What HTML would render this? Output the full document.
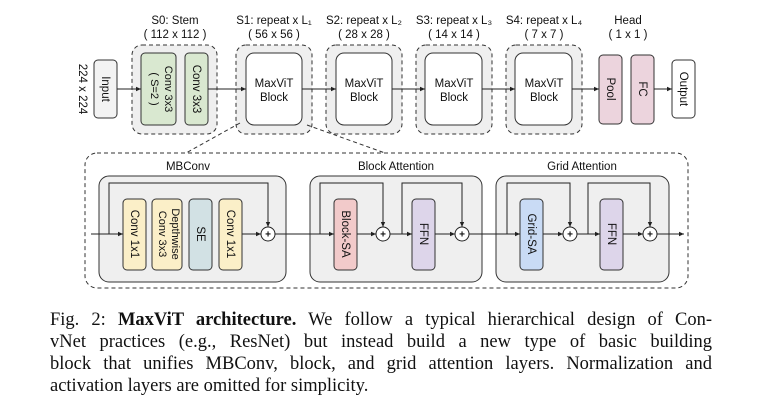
<!DOCTYPE html>
<html><head><meta charset="utf-8"><style>
body{margin:0;background:#fff;width:770px;height:417px;overflow:hidden;position:relative}
svg{position:absolute;left:0;top:0}
.cap{position:absolute;left:50px;width:662px;font-family:"Liberation Serif",serif;font-size:18.5px;color:#111;text-align:justify;text-align-last:justify;white-space:nowrap;line-height:22px}
</style></head><body>
<svg width="770" height="300" viewBox="0 0 770 300" font-family="Liberation Sans, sans-serif" fill="none">
<defs><marker id="a" markerWidth="6" markerHeight="6" refX="5" refY="3" orient="auto"><path d="M0,0.8 L5,3 L0,5.2z" fill="#222"/></marker></defs>
<g font-size="11.5" fill="#111" stroke="none" text-anchor="middle">
<text x="175" y="24">S0: Stem</text><text x="175" y="38">( 112 x 112 )</text>
<text x="274" y="24">S1: repeat x L₁</text><text x="274" y="38">( 56 x 56 )</text>
<text x="364" y="24">S2: repeat x L₂</text><text x="364" y="38">( 28 x 28 )</text>
<text x="454" y="24">S3: repeat x L₃</text><text x="454" y="38">( 14 x 14 )</text>
<text x="544" y="24">S4: repeat x L₄</text><text x="544" y="38">( 7 x 7 )</text>
<text x="628" y="24">Head</text><text x="628" y="38">( 1 x 1 )</text>
</g>
<g stroke="#333" stroke-dasharray="4,3" fill="#efefef">
<rect x="132" y="45" width="85" height="89" rx="10"/>
<rect x="236" y="45" width="76" height="89" rx="10"/>
<rect x="326" y="45" width="76" height="89" rx="10"/>
<rect x="416" y="45" width="76" height="89" rx="10"/>
<rect x="506" y="45" width="76" height="89" rx="10"/>
</g>
<g stroke="#333">
<rect x="94" y="60" width="23" height="58" rx="4" fill="#f3f3f3"/>
<rect x="141" y="53" width="35" height="72" rx="4" fill="#d9e8d0"/>
<rect x="185" y="53" width="23" height="72" rx="4" fill="#d9e8d0"/>
<rect x="246" y="53" width="56" height="72" rx="8" fill="#fff"/>
<rect x="336" y="53" width="56" height="72" rx="8" fill="#fff"/>
<rect x="425" y="53" width="57" height="72" rx="8" fill="#fff"/>
<rect x="515" y="53" width="57" height="72" rx="8" fill="#fff"/>
<rect x="599" y="55" width="23" height="69" rx="4" fill="#ecd4dd"/>
<rect x="631" y="55" width="23" height="69" rx="4" fill="#ecd4dd"/>
<rect x="672" y="60" width="23" height="58" rx="4" fill="#fff"/>
</g>
<g stroke="#222" stroke-width="1">
<line x1="117" y1="89" x2="141" y2="89" marker-end="url(#a)"/>
<line x1="208" y1="89" x2="246" y2="89" marker-end="url(#a)"/>
<line x1="302" y1="89" x2="336" y2="89" marker-end="url(#a)"/>
<line x1="392" y1="89" x2="425" y2="89" marker-end="url(#a)"/>
<line x1="482" y1="89" x2="515" y2="89" marker-end="url(#a)"/>
<line x1="572" y1="89" x2="599" y2="89" marker-end="url(#a)"/>
<line x1="654" y1="89" x2="672" y2="89" marker-end="url(#a)"/>
</g>
<g fill="#111" stroke="none" font-size="11.5">
<text transform="translate(79,89) rotate(90)" text-anchor="middle">224 x 224</text>
<text transform="translate(102,89) rotate(90)" text-anchor="middle">Input</text>
<text transform="translate(165,89) rotate(90)" text-anchor="middle" font-size="11">Conv 3x3</text>
<text transform="translate(151,89) rotate(90)" text-anchor="middle" font-size="11">( S=2 )</text>
<text transform="translate(193,89) rotate(90)" text-anchor="middle">Conv 3x3</text>
<text transform="translate(607,89) rotate(90)" text-anchor="middle">Pool</text>
<text transform="translate(639,89) rotate(90)" text-anchor="middle">FC</text>
<text transform="translate(680,89) rotate(90)" text-anchor="middle">Output</text>
<g text-anchor="middle"><text x="274" y="87">MaxViT</text><text x="274" y="101">Block</text>
<text x="364" y="87">MaxViT</text><text x="364" y="101">Block</text>
<text x="454" y="87">MaxViT</text><text x="454" y="101">Block</text>
<text x="544" y="87">MaxViT</text><text x="544" y="101">Block</text></g>
</g>
<g stroke="#333" stroke-dasharray="4,3">
<line x1="240" y1="123" x2="186" y2="153"/>
<line x1="307" y1="125" x2="385" y2="153"/>
<rect x="85" y="153" width="603" height="135" rx="12" fill="#fff"/>
</g>
<g stroke="#333" fill="#efefef">
<rect x="99" y="176" width="187" height="106" rx="10"/>
<rect x="310" y="176" width="172" height="106" rx="10"/>
<rect x="496" y="176" width="173" height="106" rx="10"/>
<rect x="123" y="199" width="23" height="71" rx="4" fill="#fbefc8"/>
<rect x="152" y="199" width="30" height="71" rx="4" fill="#fbefc8"/>
<rect x="189" y="199" width="23" height="71" rx="4" fill="#d2e1e4"/>
<rect x="219" y="199" width="23" height="71" rx="4" fill="#fbefc8"/>
<rect x="334" y="199" width="23" height="71" rx="4" fill="#f2caca"/>
<rect x="412" y="199" width="23" height="71" rx="4" fill="#ddd5ea"/>
<rect x="520" y="199" width="23" height="71" rx="4" fill="#c9dbf5"/>
<rect x="600" y="199" width="23" height="71" rx="4" fill="#ddd5ea"/>
</g>
<g stroke="#222">
<line x1="91" y1="234" x2="123" y2="234" marker-end="url(#a)"/>
<polyline points="109,234 109,183 268,183 268,227" marker-end="url(#a)"/>
<line x1="242" y1="234" x2="261" y2="234" marker-end="url(#a)"/>
<line x1="275" y1="234" x2="334" y2="234" marker-end="url(#a)"/>
<polyline points="320,234 320,183 383,183 383,227" marker-end="url(#a)"/>
<line x1="357" y1="234" x2="376" y2="234" marker-end="url(#a)"/>
<line x1="390" y1="234" x2="412" y2="234" marker-end="url(#a)"/>
<polyline points="402,234 402,183 462,183 462,227" marker-end="url(#a)"/>
<line x1="435" y1="234" x2="455" y2="234" marker-end="url(#a)"/>
<line x1="469" y1="234" x2="520" y2="234" marker-end="url(#a)"/>
<polyline points="507,234 507,183 570,183 570,227" marker-end="url(#a)"/>
<line x1="543" y1="234" x2="563" y2="234" marker-end="url(#a)"/>
<line x1="577" y1="234" x2="600" y2="234" marker-end="url(#a)"/>
<polyline points="588,234 588,183 650,183 650,227" marker-end="url(#a)"/>
<line x1="623" y1="234" x2="643" y2="234" marker-end="url(#a)"/>
<line x1="657" y1="234" x2="684" y2="234" marker-end="url(#a)"/>
</g>
<g stroke="#222" fill="#fff">
<circle cx="268" cy="234" r="7"/><circle cx="383" cy="234" r="7"/><circle cx="462" cy="234" r="7"/><circle cx="570" cy="234" r="7"/><circle cx="650" cy="234" r="7"/>
</g>
<g fill="#111" stroke="none" font-size="10" text-anchor="middle" font-weight="bold">
<text x="268" y="237.5">+</text><text x="383" y="237.5">+</text><text x="462" y="237.5">+</text><text x="570" y="237.5">+</text><text x="650" y="237.5">+</text>
</g>
<g fill="#111" stroke="none" font-size="11.5" text-anchor="middle">
<text x="188" y="170">MBConv</text><text x="396" y="170">Block Attention</text><text x="582" y="170">Grid Attention</text>
<text transform="translate(131,234) rotate(90)">Conv 1x1</text>
<text transform="translate(172,234) rotate(90)" font-size="11">Depthwise</text>
<text transform="translate(159,234) rotate(90)" font-size="11">Conv 3x3</text>
<text transform="translate(197,234) rotate(90)">SE</text>
<text transform="translate(227,234) rotate(90)">Conv 1x1</text>
<text transform="translate(342,234) rotate(90)">Block-SA</text>
<text transform="translate(420,234) rotate(90)">FFN</text>
<text transform="translate(528,234) rotate(90)">Grid-SA</text>
<text transform="translate(608,234) rotate(90)">FFN</text>
</g>
</svg>
<div class="cap" style="top:309px">Fig. 2: <b>MaxViT architecture.</b> We follow a typical hierarchical design of Con-</div>
<div class="cap" style="top:331px">vNet practices (e.g., ResNet) but instead build a new type of basic building</div>
<div class="cap" style="top:353px">block that unifies MBConv, block, and grid attention layers. Normalization and</div>
<div class="cap" style="top:375px;text-align-last:left;width:auto">activation layers are omitted for simplicity.</div>
</body></html>
